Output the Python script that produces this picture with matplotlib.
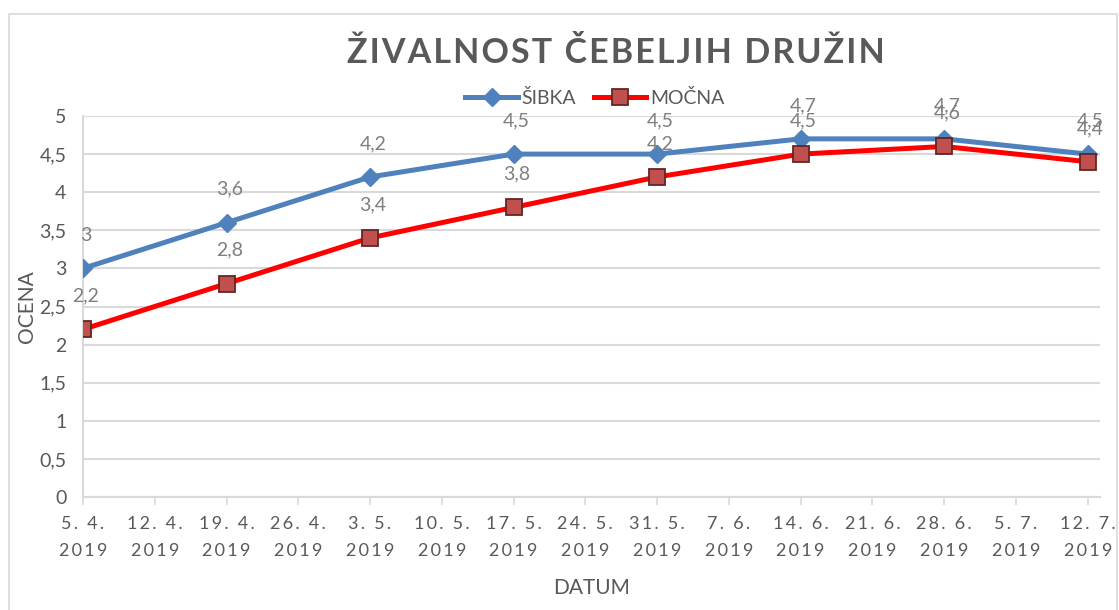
import datetime as dt
import matplotlib
matplotlib.use("Agg")
import matplotlib.pyplot as plt
import matplotlib.dates as mdates
from matplotlib.ticker import FuncFormatter, MultipleLocator
from matplotlib.patches import Rectangle

plt.rcParams["font.family"] = ["Lato", "DejaVu Sans"]

# data
dates = ["2019-04-05", "2019-04-19", "2019-05-03", "2019-05-17",
         "2019-05-31", "2019-06-14", "2019-06-28", "2019-07-12"]
sibka = [3, 3.6, 4.2, 4.5, 4.5, 4.7, 4.7, 4.5]
mocna = [2.2, 2.8, 3.4, 3.8, 4.2, 4.5, 4.6, 4.4]
title = "ŽIVALNOST ČEBELJIH DRUŽIN"

x = [dt.datetime.strptime(d, "%Y-%m-%d") for d in dates]
week_ticks = [x[0] + dt.timedelta(days=7 * i) for i in range(15)]

GRAY = "#595959"
LABEL_GRAY = "#7f7f7f"
GRID = "#d9d9d9"
HAIR = "\u200a"
THIN = "\u2009"


def spaced(s, sep):
    # Excel draws these texts letter-spaced
    return sep.join(s)


fig = plt.figure(figsize=(11.19, 6.10), dpi=100)
ax = fig.add_axes([83 / 1119, 1 - 497 / 610, 1017 / 1119, 381 / 610])

# chart border
fig.patches.append(Rectangle((9 / 1119, -0.05), 1108 / 1119, 1.05 - 14 / 610,
                             transform=fig.transFigure, fill=False,
                             edgecolor=GRID, linewidth=1.2))

ax.plot(x, sibka, color="#4f81bd", linewidth=3.6, marker="D", markersize=9,
        markerfacecolor="#4f81bd", markeredgecolor="#4f81bd", label="ŠIBKA",
        zorder=3)
ax.plot(x, mocna, color="#ff0000", linewidth=3.6, marker="s", markersize=11.5,
        markerfacecolor="#c0504d", markeredgecolor="#632523", markeredgewidth=1.3,
        label="MOČNA", zorder=4)

# data labels
for xi, v in zip(x, sibka):
    ax.annotate(f"{v:g}".replace(".", ","), (mdates.date2num(xi), v),
                xytext=(2, 24), textcoords="offset points", ha="center",
                va="center", fontsize=14, color=LABEL_GRAY, annotation_clip=False)
for xi, v in zip(x, mocna):
    ax.annotate(f"{v:g}".replace(".", ","), (mdates.date2num(xi), v),
                xytext=(2, 24), textcoords="offset points", ha="center",
                va="center", fontsize=14, color=LABEL_GRAY, annotation_clip=False)

ax.set_ylim(0, 5)
ax.set_xlim(mdates.date2num(x[0]), mdates.date2num(x[-1]) + 1.2)
ax.yaxis.set_major_locator(MultipleLocator(0.5))
ax.yaxis.set_major_formatter(FuncFormatter(lambda v, p: f"{v:g}".replace(".", ",")))
ax.set_xticks([mdates.date2num(d) for d in week_ticks])
ax.set_xticklabels([spaced(f"{d.day}. {d.month}.", THIN) + "\n" + spaced(str(d.year), THIN)
                    for d in week_ticks])

ax.grid(axis="y", color=GRID, linewidth=1.5)
ax.set_axisbelow(True)
for side in ["top", "right"]:
    ax.spines[side].set_visible(False)
for side in ["left", "bottom"]:
    ax.spines[side].set_color(GRID)
    ax.spines[side].set_linewidth(1.5)

ax.tick_params(axis="y", length=0, pad=12, labelsize=14, labelcolor=GRAY)
ax.tick_params(axis="x", length=6, width=1.2, color=GRID, pad=8,
               labelsize=13, labelcolor=GRAY)
for lab in ax.get_xticklabels():
    lab.set_linespacing(1.8)

ax.set_ylabel("OCENA", fontsize=15, color=GRAY)
ax.yaxis.set_label_coords(-46 / 1017, 0.5)
ax.set_xlabel("DATUM", fontsize=15, color=GRAY)
ax.xaxis.set_label_coords(0.5, -81 / 381)

fig.text(616 / 1119, 1 - 53 / 610, spaced(title, HAIR), ha="center", va="center",
         fontsize=24.5, fontweight="bold", color=GRAY)

fig.legend(loc="center", bbox_to_anchor=(595 / 1119, 1 - 98 / 610), ncol=2,
           frameon=False, fontsize=14, labelcolor=GRAY, handlelength=2.7,
           handletextpad=0.2, columnspacing=0.9)

fig.savefig("out.png", dpi=100)
